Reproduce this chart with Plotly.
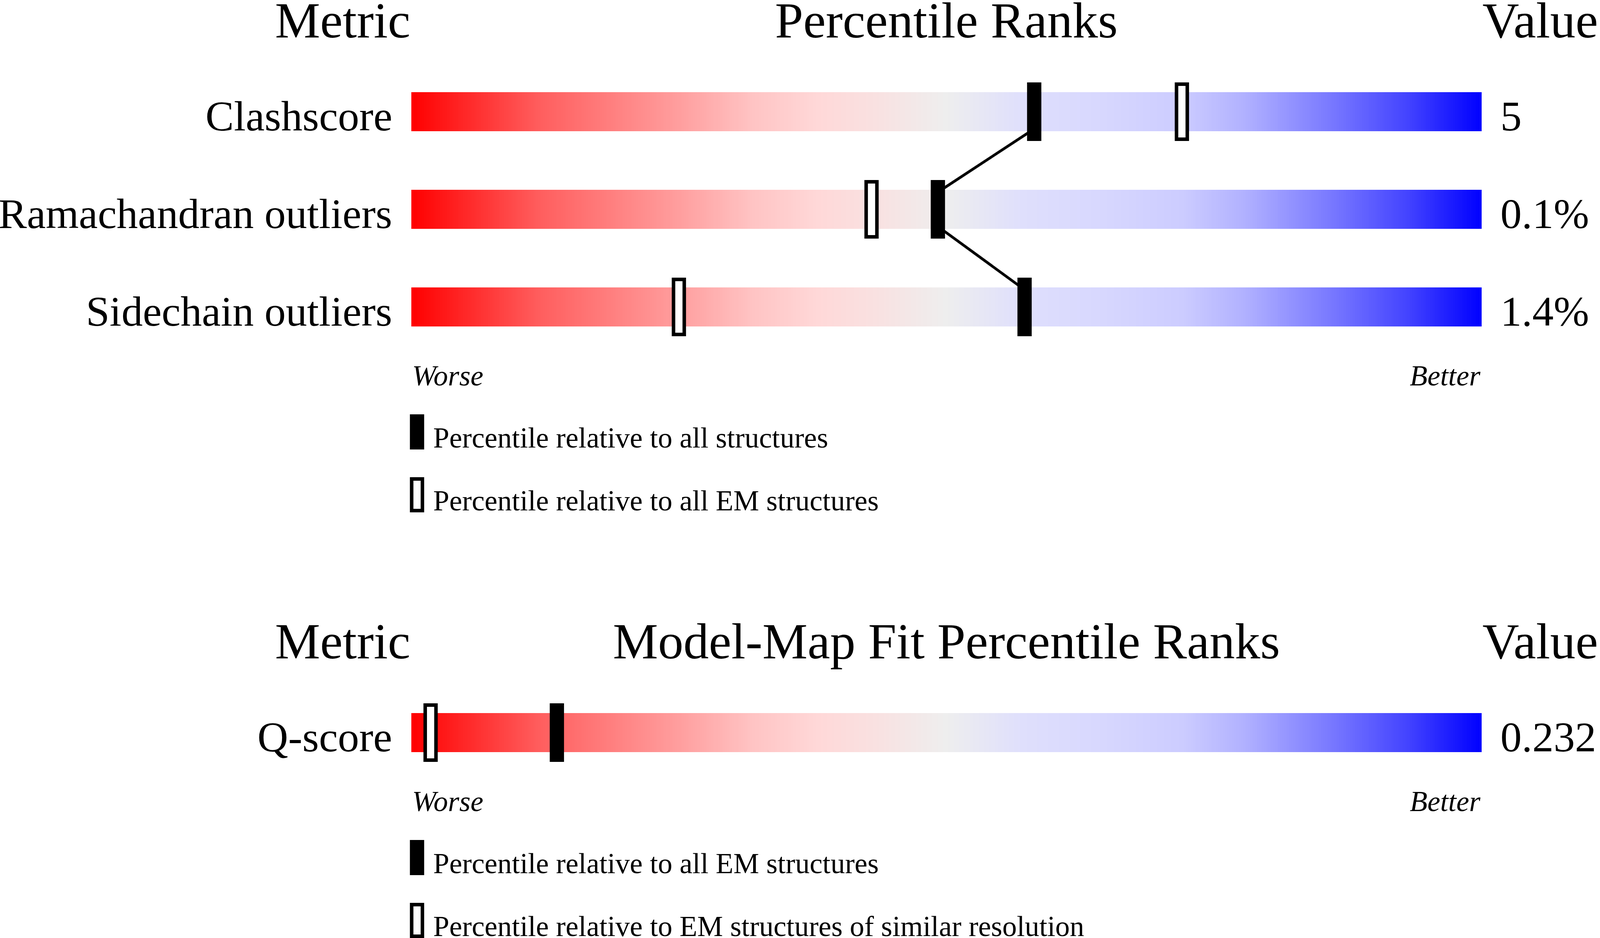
import numpy as np
import plotly.graph_objects as go

# Geometry section (percentile ranks)
geometry_metrics = ["Clashscore", "Ramachandran outliers", "Sidechain outliers"]
geometry_values = ["5", "0.1%", "1.4%"]
geometry_pct_all = [58.2, 49.2, 57.3]     # filled marker
geometry_pct_em = [72.0, 43.0, 25.0]      # open marker
geometry_legend = ["Percentile relative to all structures",
                   "Percentile relative to all EM structures"]

# Model-map fit section
fit_metrics = ["Q-score"]
fit_values = ["0.232"]
fit_pct_em = [13.6]          # filled marker
fit_pct_similar = [1.8]      # open marker
fit_legend = ["Percentile relative to all EM structures",
              "Percentile relative to EM structures of similar resolution"]

# slider gradient, worse (red) -> better (blue)
slider_colors = [
    [0.00, "#FF0000"], [0.12, "#FF5E5E"], [0.25, "#FF9E9E"], [0.32, "#FFC4C4"],
    [0.38, "#FFD8D8"], [0.44, "#F8E2E2"], [0.50, "#EEEEEE"], [0.57, "#DFDFFC"],
    [0.64, "#D8D8FE"], [0.72, "#CCCCFF"], [0.78, "#B0B0FF"], [0.86, "#7878FF"],
    [0.93, "#4444FF"], [1.00, "#0000FF"],
]

# the browser viewport is 4096 px wide, so the 4485 px design is squeezed in x
W, H = 4096, 2402
SX = W / 4485.0
BAR_LEFT, BAR_RIGHT = 1153 * SX, 4153 * SX
PX_PER_PCT = (BAR_RIGHT - BAR_LEFT) / 100.0
ROW_STEP, ROW_H = 250, 100
MARK_W, MARK_H, OPEN_LW = 40 * SX, 150, 9
HEAD_FS, LABEL_FS, SMALL_FS = 130, 109, 74
FONT = "Liberation Serif"


def pct(p):
    """Convert an x-position of the 4485 px design to percentile units."""
    return (p * SX - BAR_LEFT) / PX_PER_PCT


def text(fig, x, baseline, s, size, anchor):
    # annotations are centred on their box: shift from baseline
    fig.add_annotation(x=x, y=baseline - 0.34 * size, xref="x", yref="y",
                       text=s, showarrow=False, xanchor=anchor, yanchor="middle",
                       font=dict(family=FONT, size=size, color="black"))


def add_section(fig, first_y, title, metrics, values, filled, opened, legend, connect):
    centers = [first_y + i * ROW_STEP for i in range(len(metrics))]

    # header row
    head = first_y - 190
    text(fig, 0, head, "Metric", HEAD_FS, "right")
    text(fig, 50, head, title, HEAD_FS, "center")
    text(fig, 100, head, "Value", HEAD_FS, "left")

    # gradient sliders
    edges = np.linspace(0, 100, 601)
    mids = (edges[:-1] + edges[1:]) / 2
    for c in centers:
        fig.add_trace(go.Heatmap(
            x=edges, y=[c - ROW_H / 2, c + ROW_H / 2], z=[mids],
            colorscale=slider_colors, zmin=0, zmax=100,
            showscale=False, hoverinfo="skip",
        ))

    if connect and len(centers) > 1:
        xs, ys = [], []
        for i, c in enumerate(centers):
            if i > 0:
                xs.append(filled[i]); ys.append(c - 44)
            if i < len(centers) - 1:
                xs.append(filled[i]); ys.append(c + 44)
        fig.add_trace(go.Scatter(x=xs, y=ys, mode="lines",
                                 line=dict(color="black", width=7),
                                 hoverinfo="skip", showlegend=False))

    # markers on overlay axes so they sit above the connecting line
    fig.add_trace(go.Bar(
        x=filled, y=[MARK_H] * len(filled), base=[c - MARK_H / 2 for c in centers],
        width=MARK_W / PX_PER_PCT, marker=dict(color="black", line=dict(width=0)),
        xaxis="x2", yaxis="y2", hoverinfo="skip", showlegend=False,
    ))
    inner_h = MARK_H - OPEN_LW
    fig.add_trace(go.Bar(
        x=opened, y=[inner_h] * len(opened), base=[c - inner_h / 2 for c in centers],
        width=(MARK_W - OPEN_LW) / PX_PER_PCT,
        marker=dict(color="white", line=dict(color="black", width=OPEN_LW)),
        xaxis="x2", yaxis="y2", hoverinfo="skip", showlegend=False,
    ))

    for c, name, val in zip(centers, metrics, values):
        text(fig, pct(1102), c + 49, name, LABEL_FS, "right")
        text(fig, pct(4204), c + 49, val, LABEL_FS, "left")

    bottom = centers[-1] + ROW_H / 2
    text(fig, 0, bottom + 151, "<i>Worse</i>", SMALL_FS, "left")
    text(fig, 100, bottom + 151, "<i>Better</i>", SMALL_FS, "right")

    # legend
    for k, label in enumerate(legend):
        top = bottom + 225 + k * 161
        if k == 0:
            fig.add_shape(type="rect", xref="x", yref="y",
                          x0=pct(1149), x1=pct(1189), y0=top, y1=top + 90,
                          fillcolor="black", line=dict(width=0))
        else:
            half = OPEN_LW / 2 / SX
            fig.add_shape(type="rect", xref="x", yref="y",
                          x0=pct(1149 + half), x1=pct(1189 - half),
                          y0=top + OPEN_LW / 2, y1=top + 90 - OPEN_LW / 2,
                          fillcolor="white", line=dict(color="black", width=OPEN_LW))
        text(fig, pct(1212), top + 85, label, SMALL_FS, "left")


fig = go.Figure()
add_section(fig, 286, "Percentile Ranks", geometry_metrics, geometry_values,
            geometry_pct_all, geometry_pct_em, geometry_legend, connect=True)
add_section(fig, 1876, "Model-Map Fit Percentile Ranks", fit_metrics, fit_values,
            fit_pct_em, fit_pct_similar, fit_legend, connect=False)

x_range = [(0 - BAR_LEFT) / PX_PER_PCT, (W - BAR_LEFT) / PX_PER_PCT]
fig.update_layout(
    width=W, height=H,
    margin=dict(l=0, r=0, t=0, b=0),
    paper_bgcolor="white", plot_bgcolor="white",
    barmode="overlay", showlegend=False, hovermode=False,
    xaxis=dict(range=x_range, visible=False, fixedrange=True),
    yaxis=dict(range=[H, 0], visible=False, fixedrange=True),
    xaxis2=dict(range=x_range, overlaying="x", visible=False, fixedrange=True),
    yaxis2=dict(range=[H, 0], overlaying="y", visible=False, fixedrange=True),
)

# drop the default body margin so the figure sits at the page corner
fig.write_html("out.html", config={"displayModeBar": False},
               post_script="document.body.style.margin='0';")
